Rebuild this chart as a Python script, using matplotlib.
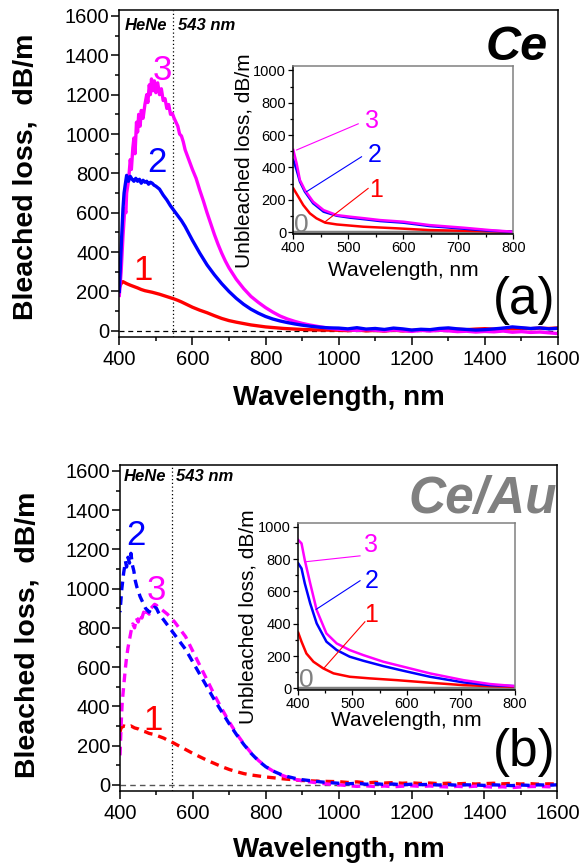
import numpy as np
import matplotlib
matplotlib.use("Agg")
import matplotlib.pyplot as plt
from matplotlib.ticker import MultipleLocator

plt.rcParams['font.family'] = ['Liberation Sans', 'DejaVu Sans']

RED, BLUE, MAG, GREY = '#ff0000', '#0000ff', '#ff00ff', '#808080'

# ---------------- Panel (a) : Ce, bleached loss ----------------
a3_wl = [400, 405, 410, 415, 418, 420, 425, 430, 433, 437, 440, 443, 447, 450, 453, 457, 460, 465, 470, 475,
         478, 482, 485, 488, 492, 496, 500, 505, 510, 515, 520, 525, 530, 535, 540, 545, 550, 555, 560, 565,
         570, 575, 580, 590, 600, 610, 620, 630, 640, 650, 660, 670, 680, 690, 700, 720, 740, 760, 780, 800,
         820, 840, 860, 880, 900, 920, 950, 975,
         1000, 1025, 1050, 1075, 1100, 1125, 1150, 1175, 1200, 1225, 1250, 1275, 1300, 1325, 1350, 1375,
         1400, 1425, 1450, 1475, 1500, 1525, 1550, 1575, 1600]
a3_val = [180, 300, 480, 620, 600, 700, 760, 870, 820, 930, 980, 900, 1060, 1010, 1100, 1040, 1120, 1080, 1150, 1200,
          1160, 1250, 1200, 1280, 1220, 1270, 1210, 1260, 1200, 1230, 1170, 1180, 1130, 1150, 1100, 1105, 1080, 1060, 1040, 1000,
          990, 960, 920, 870, 820, 775, 715, 660, 600, 545, 490, 440, 395, 355, 320, 262, 215, 175, 145, 118,
          95, 75, 60, 48, 38, 30, 20, 13,
          8, 5, 2, 6, 3, 0, 4, 1, -3, 2, -1, 3, 0, -4, -2, -6,
          -3, -5, -1, -7, -4, -8, -6, -10, -14]

a2_wl = [400, 405, 410, 413, 416, 420, 425, 430, 435, 440, 445, 450, 455, 460, 465, 470, 475, 480, 485, 490,
         495, 500, 510, 520, 530, 540, 550, 560, 570, 580, 590, 600, 620, 640, 660, 680, 700, 720, 740, 760,
         780, 800, 820, 840, 860, 880, 900, 920, 950, 975,
         1000, 1025, 1050, 1075, 1100, 1125, 1150, 1175, 1200, 1225, 1250, 1275, 1300, 1325, 1350, 1375,
         1400, 1425, 1450, 1475, 1500, 1525, 1550, 1575, 1600]
a2_val = [200, 420, 620, 700, 740, 790, 760, 785, 770, 760, 775, 760, 770, 750, 765, 755, 760, 745, 755, 750,
          740, 735, 720, 690, 665, 635, 610, 585, 560, 530, 495, 460, 395, 335, 285, 240, 200, 165, 135, 110,
          90, 73, 60, 50, 42, 35, 29, 24, 18, 15,
          14, 10, 16, 9, 12, 7, 14, 10, 4, 8, 6, 12, 15, 10, 7, 4,
          6, 10, 14, 20, 16, 12, 15, 10, 13]

a1_wl = [400, 405, 410, 420, 430, 440, 450, 460, 470, 480, 490, 500, 510, 520, 530, 540, 550, 560, 570, 580,
         590, 600, 620, 640, 660, 680, 700, 720, 740, 760, 780, 800, 850, 900, 950,
         1000, 1025, 1050, 1075, 1100, 1125, 1150, 1175, 1200, 1225, 1250, 1275, 1300, 1325, 1350, 1375,
         1400, 1425, 1450, 1475, 1500, 1525, 1550, 1575, 1600]
a1_val = [220, 240, 250, 240, 232, 225, 218, 210, 204, 200, 196, 191, 186, 180, 174, 168, 162, 155, 147, 138,
          129, 120, 105, 92, 77, 63, 52, 44, 37, 30, 25, 20, 12, 7, 4,
          3, 1, 4, 0, 2, -1, 3, 0, 2, 4, 3, 6, 5, 8, 6, 9,
          11, 8, 12, 10, 13, 11, 14, 12, 15]

# ---------------- Panel (b) : Ce/Au, bleached loss ----------------
b2_wl = [400, 405, 410, 415, 418, 422, 426, 430, 434, 438, 442, 446, 450, 455, 460, 465, 470, 475, 480, 485,
         490, 495, 500, 505, 510, 520, 530, 540, 550, 560, 570, 580, 600, 620, 640, 660, 680, 700, 720, 740,
         760, 780, 800, 820, 840, 860, 880, 900, 950, 975,
         1000, 1025, 1050, 1075, 1100, 1125, 1150, 1175, 1200, 1225, 1250, 1275, 1300, 1325, 1350, 1375,
         1400, 1425, 1450, 1475, 1500, 1525, 1550, 1575, 1600]
b2_val = [880, 1000, 1080, 1140, 1110, 1160, 1130, 1180, 1120, 1090, 1040, 1010, 990, 960, 940, 920, 900, 890, 880, 900,
          895, 905, 900, 880, 865, 840, 815, 790, 765, 740, 715, 690, 625, 560, 495, 430, 370, 310, 255, 205,
          160, 122, 92, 70, 54, 42, 33, 26, 15, 11,
          8, 5, 8, 3, 6, 2, 4, 0, 3, 1, 2, -1, 1, -2, 0, -1,
          -3, 0, -2, -4, -1, -3, 0, -2, 0]

b3_wl = [400, 403, 406, 410, 414, 418, 422, 426, 430, 435, 440, 445, 450, 455, 460, 465, 470, 475, 480, 485,
         490, 495, 500, 505, 510, 520, 530, 540, 550, 560, 570, 580, 600, 620, 640, 660, 680, 700, 720, 740,
         760, 780, 800, 820, 840, 860, 880, 900, 950, 975,
         1000, 1025, 1050, 1075, 1100, 1125, 1150, 1175, 1200, 1225, 1250, 1275, 1300, 1325, 1350, 1375,
         1400, 1425, 1450, 1475, 1500, 1525, 1550, 1575, 1600]
b3_val = [150, 300, 420, 500, 580, 650, 700, 740, 780, 820, 800, 850, 830, 870, 850, 880, 860, 890, 870, 900,
          910, 920, 915, 905, 900, 885, 870, 850, 830, 805, 780, 755, 680, 605, 530, 455, 385, 320, 260, 208,
          162, 124, 93, 70, 52, 38, 28, 20, 8, 3,
          0, -4, -8, -5, -9, -6, -10, -7, -5, -8, -6, -9, -11, -8, -10, -7,
          -9, -12, -10, -14, -11, -9, -8, -10, -9]

b1_wl = [400, 403, 410, 420, 430, 440, 450, 460, 470, 480, 490, 500, 510, 520, 530, 540, 550, 560, 570, 580,
         600, 620, 640, 660, 680, 700, 720, 740, 760, 780, 800, 850, 900, 950,
         1000, 1025, 1050, 1075, 1100, 1125, 1150, 1175, 1200, 1225, 1250, 1275, 1300, 1325, 1350, 1375,
         1400, 1425, 1450, 1475, 1500, 1525, 1550, 1575, 1600]
b1_val = [270, 290, 300, 295, 300, 290, 285, 275, 270, 262, 258, 252, 245, 238, 228, 220, 210, 200, 190, 180,
          160, 142, 124, 108, 92, 78, 67, 57, 50, 45, 40, 30, 22, 18,
          16, 12, 15, 10, 13, 9, 11, 8, 10, 7, 9, 6, 8, 5, 7, 4,
          6, 8, 5, 7, 4, 6, 3, 5, 4]

# ---------------- Insets : unbleached loss ----------------
ia3_wl = [400, 406, 412, 421, 436, 455, 479, 503, 530, 558, 600, 648, 709, 758, 800]
ia3_val = [508, 425, 322, 260, 188, 136, 105, 95, 85, 74, 64, 43, 27, 12, 2]
ia2_wl = [400, 406, 412, 421, 436, 455, 479, 503, 530, 558, 600, 648, 709, 758, 800]
ia2_val = [446, 384, 312, 250, 178, 126, 101, 89, 79, 68, 58, 37, 21, 8, 2]
ia1_wl = [400, 409, 418, 430, 442, 458, 479, 527, 588, 648, 709, 800]
ia1_val = [270, 219, 167, 116, 85, 58, 47, 33, 23, 12, 8, 2]

ib3_wl = [400, 406, 412, 422, 434, 452, 471, 495, 520, 557, 594, 643, 705, 754, 800]
ib3_val = [918, 897, 794, 650, 484, 340, 278, 237, 206, 165, 134, 93, 51, 27, 14]
ib2_wl = [400, 406, 412, 422, 434, 452, 471, 495, 520, 557, 594, 643, 705, 754, 800]
ib2_val = [773, 742, 650, 526, 402, 289, 237, 196, 171, 138, 109, 72, 37, 20, 14]
ib1_wl = [400, 406, 415, 428, 446, 465, 495, 532, 582, 643, 705, 754, 800]
ib1_val = [344, 289, 216, 165, 124, 93, 72, 62, 51, 35, 20, 14, 10]

zero_wl = [400, 800]
zero_val = [0, 0]

hene_wl = 548

fig = plt.figure(figsize=(5.82, 8.65), dpi=100)


def style_main(ax):
    ax.set_xlim(400, 1600)
    ax.set_ylim(-30, 1630)
    ax.xaxis.set_major_locator(MultipleLocator(200))
    ax.xaxis.set_minor_locator(MultipleLocator(100))
    ax.yaxis.set_major_locator(MultipleLocator(200))
    ax.yaxis.set_minor_locator(MultipleLocator(100))
    ax.tick_params(which='both', direction='out', top=False, right=False, width=1.1)
    ax.tick_params(which='major', length=5.5, labelsize=14.5)
    ax.tick_params(axis='x', which='major', pad=4)
    ax.tick_params(axis='y', which='major', pad=1.5)
    ax.tick_params(which='minor', length=3)
    for s in ax.spines.values():
        s.set_linewidth(1.1)
    ax.set_xlabel('Wavelength, nm', fontsize=20, fontweight='bold')
    ax.set_ylabel('Bleached loss,  dB/m', fontsize=20.5, fontweight='bold')
    ax.xaxis.label.set_va('center')
    ax.yaxis.label.set_va('center')


def style_inset(ax, ylim):
    ax.set_xlim(400, 800)
    ax.set_ylim(*ylim)
    ax.xaxis.set_major_locator(MultipleLocator(100))
    ax.xaxis.set_minor_locator(MultipleLocator(50))
    ax.yaxis.set_major_locator(MultipleLocator(200))
    ax.yaxis.set_minor_locator(MultipleLocator(100))
    ax.tick_params(which='both', direction='out', top=False, right=False, width=0.9)
    ax.tick_params(which='major', length=3.6, labelsize=10.5, pad=1.5)
    ax.tick_params(which='minor', length=2)
    ax.spines['top'].set_color(GREY)
    ax.spines['right'].set_color(GREY)
    for s in ax.spines.values():
        s.set_linewidth(1.1)
    ax.set_xlabel('Wavelength, nm', fontsize=15)
    ax.set_ylabel('Unbleached loss, dB/m', fontsize=15)
    ax.xaxis.label.set_va('center')
    ax.yaxis.label.set_va('center')


# ---- top panel ----
ax1 = fig.add_axes([0.205, 0.6107, 0.7538, 0.3777])
style_main(ax1)
ax1.axhline(0, color='black', lw=0.9, ls=(0, (4, 3)))
ax1.axvline(hene_wl, color='black', lw=0.9, ls=(0, (1, 2)))
ax1.plot(a1_wl, a1_val, color=RED, lw=2.4)
ax1.plot(a3_wl, a3_val, color=MAG, lw=2.4)
ax1.plot(a2_wl, a2_val, color=BLUE, lw=2.4)
ax1.xaxis.set_label_coords(0.5, -0.186)
ax1.yaxis.set_label_coords(-0.213, 0.49)
ax1.text(0.013, 0.954, 'HeNe', transform=ax1.transAxes, fontsize=12, fontweight='bold',
         style='italic', ha='left', va='center')
ax1.text(0.134, 0.954, '543 nm', transform=ax1.transAxes, fontsize=12, fontweight='bold',
         style='italic', ha='left', va='center')
ax1.text(0.977, 0.847, 'Ce', transform=ax1.transAxes, fontsize=35, fontweight='bold',
         style='italic', ha='right', va='baseline')
ax1.text(0.993, 0.112, '(a)', transform=ax1.transAxes, fontsize=37, ha='right', va='center')
ax1.text(519, 1273, '3', color=MAG, fontsize=25, ha='center', va='baseline')
ax1.text(502, 806, '2', color=BLUE, fontsize=25, ha='center', va='baseline')
ax1.text(465, 257, '1', color=RED, fontsize=25, ha='center', va='baseline')

# ---- bottom panel ----
ax2 = fig.add_axes([0.2062, 0.0859, 0.7514, 0.3765])
style_main(ax2)
ax2.axhline(0, color='#555555', lw=1.0, ls=(0, (4, 3)))
ax2.axvline(hene_wl - 4, color='black', lw=0.9, ls=(0, (1, 2)))
dash = (0, (2.6, 1.8))
ax2.plot(b1_wl, b1_val, color=RED, lw=2.4, ls=dash)
ax2.plot(b3_wl, b3_val, color=MAG, lw=2.4, ls=dash)
ax2.plot(b2_wl, b2_val, color=BLUE, lw=2.4, ls=(2.2, (2.6, 1.8)))
ax2.xaxis.set_label_coords(0.5, -0.182)
ax2.yaxis.set_label_coords(-0.212, 0.48)
ax2.text(0.0076, 0.964, 'HeNe', transform=ax2.transAxes, fontsize=12, fontweight='bold',
         style='italic', ha='left', va='center')
ax2.text(0.128, 0.964, '543 nm', transform=ax2.transAxes, fontsize=12, fontweight='bold',
         style='italic', ha='left', va='center')
ax2.text(1.0, 0.853, 'Ce/Au', transform=ax2.transAxes, fontsize=37, fontweight='bold',
         style='italic', ha='right', va='baseline', color=GREY)
ax2.text(0.995, 0.116, '(b)', transform=ax2.transAxes, fontsize=37, ha='right', va='center')
ax2.text(444, 1221, '2', color=BLUE, fontsize=25, ha='center', va='baseline')
ax2.text(499, 940, '3', color=MAG, fontsize=25, ha='center', va='baseline')
ax2.text(490, 277, '1', color=RED, fontsize=25, ha='center', va='baseline')

# ---- inset (a) ----
in1 = fig.add_axes([0.504, 0.7295, 0.378, 0.1946])
style_inset(in1, (-12, 1030))
in1.plot(zero_wl, zero_val, color=GREY, lw=2.5)
in1.plot(ia1_wl, ia1_val, color=RED, lw=1.8)
in1.plot(ia2_wl, ia2_val, color=BLUE, lw=1.8)
in1.plot(ia3_wl, ia3_val, color=MAG, lw=1.8)
in1.xaxis.set_label_coords(0.5, -0.214)
in1.yaxis.set_label_coords(-0.225, 0.437)
in1.plot([518, 406], [670, 508], color=MAG, lw=0.8)
in1.plot([524, 424], [466, 250], color=BLUE, lw=0.8)
in1.plot([536, 458], [270, 64], color=RED, lw=0.8)
in1.text(543, 644, '3', color=MAG, fontsize=18, ha='center', va='baseline')
in1.text(548, 433, '2', color=BLUE, fontsize=18, ha='center', va='baseline')
in1.text(550, 217, '1', color=RED, fontsize=18, ha='center', va='baseline')
in1.text(415, 3, '0', color=GREY, fontsize=19, ha='center', va='baseline')

# ---- inset (b) ----
in2 = fig.add_axes([0.5125, 0.2023, 0.3723, 0.1934])
style_inset(in2, (-10, 1025))
in2.plot(zero_wl, zero_val, color=GREY, lw=2.5)
in2.plot(ib1_wl, ib1_val, color=RED, lw=1.8)
in2.plot(ib2_wl, ib2_val, color=BLUE, lw=1.8)
in2.plot(ib3_wl, ib3_val, color=MAG, lw=1.8)
in2.xaxis.set_label_coords(0.5, -0.18)
in2.yaxis.set_label_coords(-0.23, 0.44)
in2.plot([514, 412], [820, 783], color=MAG, lw=0.8)
in2.plot([514, 433], [666, 489], color=BLUE, lw=0.8)
in2.plot([523, 447], [412, 124], color=RED, lw=0.8)
in2.text(535, 845, '3', color=MAG, fontsize=18, ha='center', va='baseline')
in2.text(535, 619, '2', color=BLUE, fontsize=18, ha='center', va='baseline')
in2.text(535, 412, '1', color=RED, fontsize=18, ha='center', va='baseline')
in2.text(415, 10, '0', color=GREY, fontsize=19, ha='center', va='baseline')

fig.savefig('out.png', dpi=100)
